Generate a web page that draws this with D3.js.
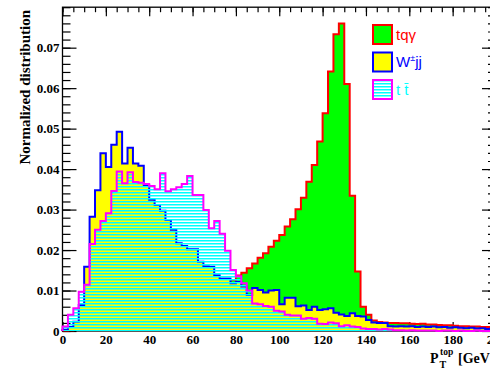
<!DOCTYPE html>
<html>
<head>
<meta charset="utf-8">
<script src="https://cdn.jsdelivr.net/npm/d3@7/dist/d3.min.js"></script>
<style>
  html, body { margin: 0; padding: 0; background: #fff; }
  svg { display: block; }
  .serif { font-family: "Liberation Serif", "Times New Roman", serif; font-weight: bold; }
  .sans { font-family: "Liberation Sans", Arial, sans-serif; }
</style>
</head>
<body>
<div id="chart"></div>
<script>
// histogram binning: 80 bins of 2.5 GeV from 0 to 200
const BIN_WIDTH = 2.5;

// tq gamma signal
const tqa = [
  0.0001, 0.0002, 0.0004, 0.0006, 0.0008, 0.0009, 0.0011, 0.0014, 0.0017, 0.0020,
  0.0023, 0.0026, 0.0030, 0.0033, 0.0037, 0.0040, 0.0044, 0.0049, 0.0054, 0.0058,
  0.0062, 0.0066, 0.0071, 0.0075, 0.0080, 0.0085, 0.0090, 0.0097, 0.0103, 0.0110,
  0.0117, 0.0126,
  0.0137, 0.0144, 0.0155, 0.0167, 0.0181, 0.0192, 0.0208, 0.0223, 0.0237, 0.0258,
  0.0276, 0.0301, 0.0329, 0.0369, 0.0410, 0.0468, 0.0538, 0.0641, 0.0733, 0.0760,
  0.0610, 0.0334, 0.0147, 0.0060,
  0.0040, 0.0026, 0.0022, 0.0021, 0.0020, 0.0020, 0.0019, 0.0019, 0.0018, 0.0017,
  0.0018, 0.0016, 0.0016, 0.0015, 0.0014, 0.0014, 0.0013, 0.0012, 0.0012, 0.0011,
  0.0011, 0.0010, 0.0010, 0.0009
];

// W+- jj background
const wjj = [
  0.0003, 0.0010, 0.0023, 0.0064, 0.0159, 0.0282, 0.0348, 0.0439, 0.0405, 0.0460,
  0.0492, 0.0414, 0.0453, 0.0414, 0.0408, 0.0360, 0.0324, 0.0311, 0.0297, 0.0274,
  0.0250, 0.0217, 0.0210, 0.0202, 0.0202, 0.0171, 0.0160, 0.0159, 0.0138, 0.0130,
  0.0130, 0.0118,
  0.0121, 0.0110, 0.0089, 0.0106, 0.0101, 0.0095, 0.0100, 0.0101, 0.0066, 0.0082,
  0.0082, 0.0061, 0.0063, 0.0052, 0.0060, 0.0052, 0.0054, 0.0056, 0.0045, 0.0041,
  0.0037, 0.0044, 0.0037, 0.0036,
  0.0027, 0.0021, 0.0020, 0.0020, 0.0012, 0.0011, 0.0012, 0.0011, 0.0012, 0.0010,
  0.0011, 0.0010, 0.0011, 0.0009, 0.0010, 0.0008, 0.0009, 0.0008, 0.0007, 0.0008,
  0.0006, 0.0007, 0.0005, 0.0006
];

// t tbar background
const ttbar = [
  0.0011, 0.0040, 0.0056, 0.0097, 0.0114, 0.0215, 0.0250, 0.0272, 0.0291, 0.0346,
  0.0394, 0.0365, 0.0392, 0.0368, 0.0366, 0.0363, 0.0358, 0.0350, 0.0390, 0.0345,
  0.0350, 0.0355, 0.0363, 0.0383, 0.0336, 0.0336, 0.0299, 0.0254, 0.0272, 0.0240,
  0.0198, 0.0151,
  0.0135, 0.0118, 0.0100, 0.0068, 0.0066, 0.0062, 0.0060, 0.0050, 0.0048, 0.0040,
  0.0038, 0.0038, 0.0030, 0.0032, 0.0030, 0.0018, 0.0017, 0.0021, 0.0019, 0.0012,
  0.0014, 0.0011, 0.0010, 0.0006,
  0.0005, 0.0005, 0.0004, 0.0005, 0.0004, 0.0002, 0.0002, 0.0001, 0.0002, 0.0001,
  0.0001, 0.0001, 0.0001, 0.0000, 0.0001, 0.0001, 0.0000, 0.0001, 0.0000, 0.0000,
  0.0001, 0.0000, 0.0000, 0.0000
];

const xTicks = [0, 20, 40, 60, 80, 100, 120, 140, 160, 180, 200];
const yTicks = [0, 0.01, 0.02, 0.03, 0.04, 0.05, 0.06, 0.07];

const width = 490;
const height = 369;
const FRAME = { left: 62.5, right: 496, top: 7.2, bottom: 331 };

const svg = d3.select('#chart')
  .append('svg')
  .attr('width', width)
  .attr('height', height);

// horizontal cyan hatch used for the t tbar histogram
svg.append('defs')
  .append('pattern')
  .attr('id', 'hatch')
  .attr('patternUnits', 'userSpaceOnUse')
  .attr('width', 6)
  .attr('height', 3)
  .append('rect')
  .attr('width', 6)
  .attr('height', 1.5)
  .attr('fill', '#00ffff');

const x = d3.scaleLinear().domain([0, 200]).range([FRAME.left, FRAME.right]);
const y = d3.scaleLinear().domain([0, 0.08]).range([FRAME.bottom, FRAME.top]);

const minorX = d3.range(0, 201, 5);
const minorY = d3.range(0, 0.0801, 0.002);

// axes go under the histograms (ticks are hidden by the fills like in ROOT)
const axes = svg.append('g').attr('class', 'axes');

axes.append('g')
  .attr('transform', 'translate(0,' + FRAME.bottom + ')')
  .call(d3.axisBottom(x).tickValues(minorX).tickSizeInner(-5).tickSizeOuter(0).tickFormat(''));
axes.append('g')
  .attr('class', 'x axis')
  .attr('transform', 'translate(0,' + FRAME.bottom + ')')
  .call(d3.axisBottom(x).tickValues(xTicks).tickSizeInner(-9).tickSizeOuter(0).tickPadding(4).tickFormat(d3.format('d')));
axes.append('g')
  .attr('transform', 'translate(0,' + FRAME.top + ')')
  .call(d3.axisTop(x).tickValues(minorX).tickSizeInner(-5).tickSizeOuter(0).tickFormat(''));
axes.append('g')
  .attr('transform', 'translate(0,' + FRAME.top + ')')
  .call(d3.axisTop(x).tickValues(xTicks).tickSizeInner(-9).tickSizeOuter(0).tickFormat(''));

axes.append('g')
  .attr('transform', 'translate(' + FRAME.left + ',0)')
  .call(d3.axisLeft(y).tickValues(minorY).tickSizeInner(-8).tickSizeOuter(0).tickFormat(''));
axes.append('g')
  .attr('class', 'y axis')
  .attr('transform', 'translate(' + FRAME.left + ',0)')
  .call(d3.axisLeft(y).tickValues(yTicks).tickSizeInner(-14).tickSizeOuter(0).tickPadding(3)
    .tickFormat((d) => (d === 0 ? '0' : d.toFixed(2))));
axes.append('g')
  .attr('transform', 'translate(' + FRAME.right + ',0)')
  .call(d3.axisRight(y).tickValues(minorY).tickSizeInner(-8).tickSizeOuter(0).tickFormat(''));
axes.append('g')
  .attr('transform', 'translate(' + FRAME.right + ',0)')
  .call(d3.axisRight(y).tickValues(yTicks).tickSizeInner(-14).tickSizeOuter(0).tickFormat(''));

axes.selectAll('.domain').remove();
axes.selectAll('.tick line').attr('stroke', '#000').attr('stroke-width', 1.2);
axes.selectAll('.tick text')
  .attr('class', 'serif')
  .attr('fill', '#000')
  .style('font-size', '13px');

// frame
axes.append('rect')
  .attr('x', FRAME.left)
  .attr('y', FRAME.top)
  .attr('width', FRAME.right - FRAME.left)
  .attr('height', FRAME.bottom - FRAME.top)
  .attr('fill', 'none')
  .attr('stroke', '#000')
  .attr('stroke-width', 1.3);

function stepPoints(values) {
  const pts = [[0, 0]];
  values.forEach((v, i) => {
    pts.push([i * BIN_WIDTH, v], [(i + 1) * BIN_WIDTH, v]);
  });
  pts.push([values.length * BIN_WIDTH, 0]);
  return pts;
}

const line = d3.line()
  .x((d) => x(d[0]))
  .y((d) => y(d[1]));

const hists = [
  { values: tqa, fill: '#00ff00', stroke: '#ff0000' },
  { values: wjj, fill: '#ffff00', stroke: '#0000ff' },
  { values: ttbar, fill: 'url(#hatch)', stroke: '#ff00ff' }
];

const hg = svg.append('g').attr('class', 'hists');
hists.forEach((h) => {
  const pts = stepPoints(h.values);
  hg.append('path')
    .attr('d', line(pts) + 'Z')
    .attr('fill', h.fill)
    .attr('stroke', 'none');
  hg.append('path')
    .attr('d', line(pts))
    .attr('fill', 'none')
    .attr('stroke', h.stroke)
    .attr('stroke-width', 2)
    .attr('stroke-linejoin', 'miter');
});

// legend
const legendItems = [
  { label: 'tq\u03b3', fill: '#00ff00', stroke: '#ff0000', color: '#ff0000' },
  { label: 'W', sup: '\u00b1', rest: 'jj', fill: '#ffff00', stroke: '#0000ff', color: '#0000ff' },
  { label: 't t\u0304', fill: 'url(#hatch)', stroke: '#ff00ff', color: '#00ffff' }
];

const lg = svg.append('g').attr('transform', 'translate(373,25)');
legendItems.forEach((d, i) => {
  const row = lg.append('g').attr('transform', 'translate(0,' + i * 27.5 + ')');
  row.append('rect')
    .attr('width', 19)
    .attr('height', 19)
    .attr('fill', d.fill)
    .attr('stroke', d.stroke)
    .attr('stroke-width', 2);
  const t = row.append('text')
    .attr('class', 'sans')
    .attr('x', 23)
    .attr('y', 14.5)
    .attr('fill', d.color)
    .style('font-size', '15px')
    .text(d.label);
  if (d.sup) {
    t.append('tspan').attr('dy', -6).style('font-size', '9px').text(d.sup);
    t.append('tspan').attr('dy', 6).text(d.rest);
  }
});

// axis titles
svg.append('text')
  .attr('class', 'serif')
  .attr('transform', 'translate(30,10) rotate(-90)')
  .attr('text-anchor', 'end')
  .style('font-size', '15px')
  .text('Normalized distribution');

const xt = svg.append('g').attr('class', 'serif');
xt.append('text').attr('x', 430).attr('y', 363).style('font-size', '14px').text('P');
xt.append('text').attr('x', 439.5).attr('y', 368).style('font-size', '10px').text('T');
xt.append('text').attr('x', 440).attr('y', 355).style('font-size', '9.5px').text('top');
xt.append('text').attr('x', 458).attr('y', 363).style('font-size', '14px').text('[GeV]');
</script>
</body>
</html>
